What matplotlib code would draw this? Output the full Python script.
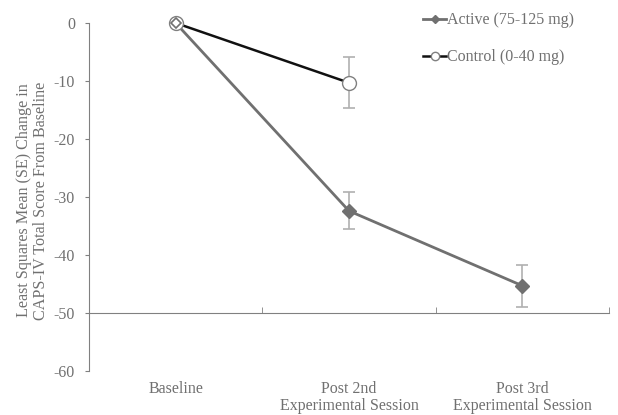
import matplotlib
matplotlib.use("Agg")
import matplotlib.pyplot as plt
from matplotlib.transforms import blended_transform_factory

categories = ["Baseline", "Post 2nd\nExperimental Session", "Post 3rd\nExperimental Session"]
active_vals = [0.0, -32.4, -45.3]
active_se = [0.0, 3.2, 3.6]
control_vals = [0.0, -10.3]
control_se = [0.0, 4.4]
yticks = [0, -10, -20, -30, -40, -50, -60]

plt.rcParams['font.family'] = ['Liberation Serif', 'DejaVu Serif']
txt = '#707070'

fig = plt.figure(figsize=(6.18, 4.15), dpi=100)
ax = fig.add_axes([89/618, 1-371/415, (609-89)/618, (371-23)/415])

xa = list(range(len(active_vals)))
xc = list(range(len(control_vals)))

# error bars
ax.errorbar(xa[1:], active_vals[1:], yerr=active_se[1:], fmt='none', ecolor='#b0b0b0',
            elinewidth=1.2, capsize=4, capthick=1.2, zorder=2, clip_on=False)
ax.errorbar(xc[1:], control_vals[1:], yerr=control_se[1:], fmt='none', ecolor='#b0b0b0',
            elinewidth=1.2, capsize=4, capthick=1.2, zorder=2, clip_on=False)

la, = ax.plot(xa, active_vals, color='#707070', lw=2, marker='D', ms=7,
              mfc='#707070', mec='#707070', zorder=3, clip_on=False,
              label='Active (75-125 mg)')
lc, = ax.plot(xc, control_vals, color='#111111', lw=1.8, marker='o', ms=10,
              mfc='white', mec='#808080', mew=1, zorder=4, clip_on=False,
              label='Control (0-40 mg)')
ax.plot([0], [0], marker='D', ms=5, mfc='white', mec='#707070', mew=1.2, zorder=5, clip_on=False)

ax.set_xlim(-0.5, 2.5)
ax.set_ylim(-60, 0)
ax.set_yticks(yticks)
ax.set_yticklabels([str(v) for v in yticks], color=txt, fontsize=11.5)
ax.tick_params(axis='y', direction='out', length=3, color='#808080', pad=7)

for s in ['top', 'right']:
    ax.spines[s].set_visible(False)
ax.spines['left'].set_color('#808080')
ax.spines['bottom'].set_color('#808080')
ax.spines['bottom'].set_position(('data', -50))

ax.set_xticks([])
ax.set_xticks([0.5, 1.5, 2.5], minor=True)
ax.tick_params(axis='x', which='minor', direction='in', length=4, color='#808080')
ax.tick_params(axis='x', which='major', length=0)

trans = blended_transform_factory(ax.transData, ax.transAxes)
for i, c in enumerate(categories):
    ax.text(i, -0.03, c, transform=trans, ha='center', va='top', color=txt,
            fontsize=11.5, linespacing=1.05)

ax.set_ylabel("Least Squares Mean (SE) Change in\nCAPS-IV Total Score From Baseline",
              color=txt, fontsize=11.6, linespacing=1.1)
ax.yaxis.set_label_coords(-0.076, 0.49)

leg = fig.legend(handles=[la, lc], loc='upper left', bbox_to_anchor=(409/618, 1+2/415),
                 frameon=False, fontsize=11.5, handlelength=1.4, handletextpad=0.05,
                 labelspacing=1.3, markerscale=0.6)
for t in leg.get_texts():
    t.set_color(txt)

fig.savefig('out.png', dpi=100)
